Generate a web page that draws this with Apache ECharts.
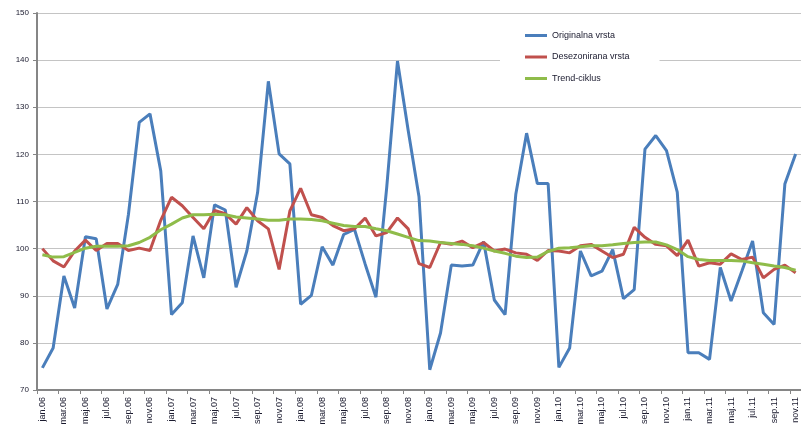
<!DOCTYPE html>
<html>
<head>
<meta charset="utf-8">
<script src="https://cdn.jsdelivr.net/npm/echarts@6/dist/echarts.min.js"></script>
<style>html,body{margin:0;padding:0;background:#fff}#c{width:801px;height:432px}</style>
</head>
<body>
<div id="c"></div>
<script>
var monthNames = ['jan','feb','mar','apr','maj','jun','jul','avg','sep','okt','nov','dec'];
var years = ['06','07','08','09','10','11'];
var nPoints = 71;
var categories = [];
for (var k = 0; k < nPoints; k++) {
  categories.push(monthNames[k % 12] + '.' + years[Math.floor(k / 12)]);
}
var originalna = [74.7,78.9,94.2,87.4,102.5,102.1,87.2,92.4,107.3,126.8,128.6,116.5,
  86.0,88.5,102.7,93.8,109.3,108.2,91.8,99.5,111.9,135.5,120.1,118.0,
  88.2,90.1,100.4,96.5,103.0,104.1,96.7,89.7,113.0,139.8,125.0,111.0,
  74.3,82.1,96.5,96.3,96.5,101.5,89.1,86.0,111.6,124.5,113.8,113.8,
  74.8,78.9,99.5,94.2,95.2,99.8,89.4,91.3,121.1,124.0,120.8,112.0,
  77.9,77.9,76.5,96.0,88.9,95.2,101.6,86.4,83.9,113.7,120.1];
var desezonirana = [100.0,97.4,96.1,99.5,101.8,99.6,101.1,101.1,99.6,100.1,99.6,106.0,
  110.9,109.1,106.6,104.2,108.1,107.4,105.2,108.7,105.9,104.2,95.6,108.0,
  112.8,107.2,106.6,104.9,103.8,104.2,106.5,102.7,103.4,106.5,104.2,96.8,
  96.0,101.3,100.9,101.6,100.2,101.3,99.5,99.9,99.1,98.8,97.5,99.6,
  99.5,99.1,100.6,100.9,99.5,98.1,98.8,104.5,102.4,100.9,100.6,98.5,
  101.8,96.3,97.0,96.7,98.9,97.7,98.2,93.8,95.6,96.5,94.9];
var trendCiklus = [98.7,98.2,98.3,99.2,100.1,100.5,100.5,100.5,100.6,101.3,102.4,104.0,
  105.2,106.5,107.2,107.2,107.3,107.2,106.7,106.5,106.3,106.0,106.0,106.3,
  106.3,106.2,105.9,105.4,104.9,104.7,104.7,104.2,103.8,103.1,102.4,101.7,
  101.6,101.3,101.1,100.9,100.6,100.1,99.5,99.0,98.4,98.1,98.2,99.4,
  100.1,100.2,100.4,100.6,100.6,100.8,101.1,101.3,101.4,101.4,100.8,99.8,
  98.3,97.7,97.5,97.5,97.5,97.4,97.0,96.7,96.3,96.0,95.4];
var seriesNames = ['Originalna vrsta','Desezonirana vrsta','Trend-ciklus'];
var yTicks = {min: 70, max: 150, interval: 10};

var chart = echarts.init(document.getElementById('c'), null, {renderer: 'canvas'});
var font = 'Liberation Sans';
chart.setOption({
  animation: false,
  backgroundColor: '#fff',
  grid: {left: 37, right: -5, top: 13, bottom: 42, containLabel: false},
  legend: {
    data: seriesNames,
    orient: 'vertical',
    left: 500, top: 18,
    backgroundColor: '#fff',
    padding: [13, 30, 12, 25],
    itemGap: 12.5,
    itemWidth: 22, itemHeight: 3,
    icon: 'rect',
    textStyle: {fontFamily: font, fontSize: 9, color: '#1a1a2e'},
    z: 10
  },
  xAxis: {
    type: 'category',
    data: categories,
    boundaryGap: true,
    axisLine: {show: true, lineStyle: {color: '#868686', width: 2}},
    axisTick: {show: true, interval: 1, length: 4, lineStyle: {color: '#868686'}},
    axisLabel: {interval: 1, rotate: 90, fontFamily: font, fontSize: 9, color: '#1a1a2e', margin: 7},
    splitLine: {show: false}
  },
  yAxis: {
    type: 'value',
    min: yTicks.min, max: yTicks.max, interval: yTicks.interval,
    axisLine: {show: true, lineStyle: {color: '#868686', width: 2}},
    axisTick: {show: true, length: 4, lineStyle: {color: '#868686'}},
    axisLabel: {fontFamily: font, fontSize: 8, color: '#1a1a2e', margin: 8},
    splitLine: {show: true, lineStyle: {color: '#c4c4c4', width: 1}}
  },
  series: [
    {name: seriesNames[0], type: 'line', data: originalna, symbol: 'none',
     lineStyle: {color: '#4a7ebb', width: 3}, itemStyle: {color: '#4a7ebb'}, z: 2},
    {name: seriesNames[1], type: 'line', data: desezonirana, symbol: 'none',
     lineStyle: {color: '#c0504d', width: 3}, itemStyle: {color: '#c0504d'}, z: 3},
    {name: seriesNames[2], type: 'line', data: trendCiklus, symbol: 'none',
     lineStyle: {color: '#8fbc4a', width: 3}, itemStyle: {color: '#8fbc4a'}, z: 4}
  ]
});
</script>
</body>
</html>
